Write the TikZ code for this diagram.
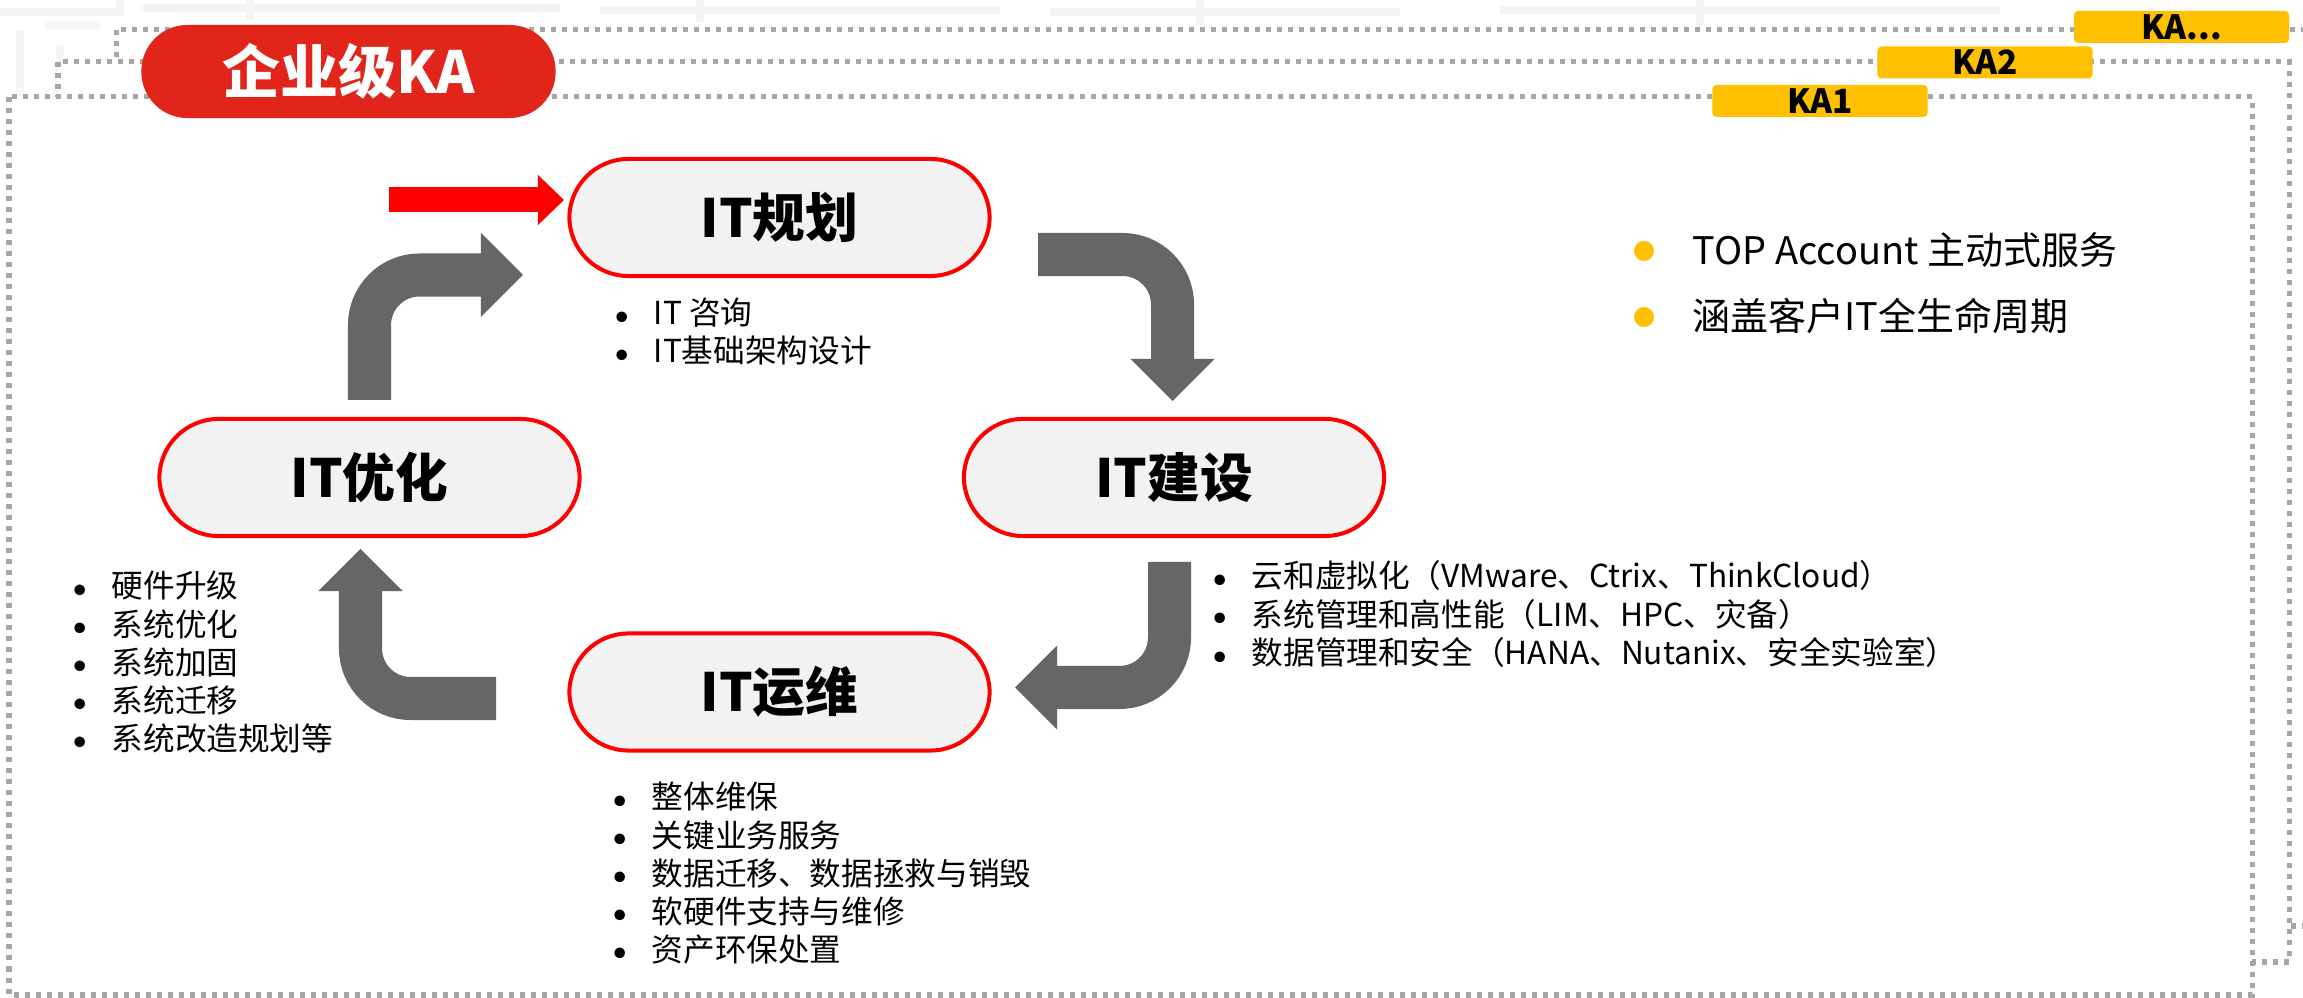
\documentclass[tikz,border=0pt]{standalone}
\usepackage{fontspec}
\setmainfont{Noto Sans CJK SC}
\usepackage{tikz}
\usetikzlibrary{arrows.meta,shapes,positioning,calc}
\definecolor{titlered}{HTML}{E1251B}
\definecolor{ringred}{HTML}{FF0000}
\definecolor{pillgray}{HTML}{F2F2F2}
\definecolor{arrowgray}{HTML}{666666}
\definecolor{kay}{HTML}{FFC000}
\definecolor{dotgray}{HTML}{A6A6A6}
\tikzstyle{pill}=[draw=ringred, line width=0.04cm, fill=pillgray, rounded corners=0.59cm, minimum width=4.2cm, minimum height=1.17cm, font=\fontsize{15}{18}\selectfont\bfseries]
\tikzstyle{kabox}=[fill=kay, rounded corners=0.04cm, minimum width=2.15cm, minimum height=0.32cm, inner sep=0pt, font=\fontsize{9.5}{11}\selectfont\bfseries]
\tikzstyle{dotframe}=[draw=dotgray, fill=white, line width=0.05cm, dash pattern=on 0.05cm off 0.06cm]
\tikzstyle{grayturn}=[draw=arrowgray, line width=0.43cm, rounded corners=0.5cm, -{Triangle[length=0.42cm, width=0.84cm, line width=0pt]}]
\tikzstyle{lst}=[anchor=base west, inner sep=0pt, font=\fontsize{9}{10.8}\selectfont]
\tikzstyle{key}=[anchor=base west, inner sep=0pt, font=\fontsize{10.8}{13}\selectfont]
\tikzstyle{faint}=[draw=black!4, line width=0.08cm]
\newcommand{\blt}{\makebox[0.39cm][l]{\raisebox{0.5pt}{\fontsize{7}{8}\selectfont$\bullet$}}}

\begin{document}
\begin{tikzpicture}[x=0.01cm, y=-0.01cm]
				\clip(0,0)rectangle(2303,998);
				% faint background
				\draw[faint](0,12)--(120,12)--(120,0) (20,30)--(20,95) (45,25)--(100,25) (60,45)--(60,95) (140,8)--(560,8) (250,20)--(250,0) (600,10)--(1000,10) (700,22)--(700,0) (1050,12)--(1400,12) (1200,25)--(1200,0) (1500,10)--(2000,10) (1700,25)--(1700,0);
				% stacked frames
				\draw[dotframe](116,30)rectangle(2340,926);
				\draw[dotframe](58,62)rectangle(2289,962);
				\draw[dotframe](9,97)rectangle(2252,995);
				\node[kabox](kan)at(2181.5,27){KA...};
				\node[kabox](katwo)at(1985,62.5){KA2};
				\node[kabox](kaone)at(1820,101){KA1};
				\node[fill=titlered, rounded corners=0.46cm, minimum width=4.14cm, minimum height=0.93cm, text=white, font=\fontsize{16.5}{20}\selectfont\bfseries](title)at(348.5,71.5){企业级KA};
				% cycle
				\node[pill](plan)at(779.5,217.5){IT规划};
				\node[pill](build)at(1174,477.5){IT建设};
				\node[pill](ops)at(779.5,692){IT运维};
				\node[pill](optim)at(369.5,477.5){IT优化};
				\coordinate(rs)at(389,200);
				\coordinate(rt)at(564,200);
				\draw[draw=ringred, line width=0.25cm, -{Triangle[length=0.26cm, width=0.5cm, line width=0pt]}](rs)--(rt);
				\coordinate(a1s)at(369.5,400);
				\coordinate(a1e)at(523,275);
				\coordinate(a2s)at(1038,254.5);
				\coordinate(a2e)at(1172.5,401);
				\coordinate(a3s)at(1169.5,562);
				\coordinate(a3e)at(1015,687.5);
				\coordinate(a4s)at(496,698.5);
				\coordinate(a4e)at(360.5,549);
				\draw[grayturn](a1s)|-(a1e);
				\draw[grayturn](a2s)-|(a2e);
				\draw[grayturn](a3s)|-(a3e);
				\draw[grayturn](a4s)-|(a4e);
				% lists
				\node[lst](planlist)at(614,325){\begin{tabular}[t]{@{}l@{}}\blt IT 咨询\\\blt IT基础架构设计\end{tabular}};
				\node[lst](buildlist)at(1212,588){\begin{tabular}[t]{@{}l@{}}\blt 云和虚拟化（VMware、Ctrix、ThinkCloud）\\\blt 系统管理和高性能（LIM、HPC、灾备）\\\blt 数据管理和安全（HANA、Nutanix、安全实验室）\end{tabular}};
				\node[lst](opslist)at(612,809){\begin{tabular}[t]{@{}l@{}}\blt 整体维保\\\blt 关键业务服务\\\blt 数据迁移、数据拯救与销毁\\\blt 软硬件支持与维修\\\blt 资产环保处置\end{tabular}};
				\node[lst](optimlist)at(72,598){\begin{tabular}[t]{@{}l@{}}\blt 硬件升级\\\blt 系统优化\\\blt 系统加固\\\blt 系统迁移\\\blt 系统改造规划等\end{tabular}};
				% key points
				\fill[kay](1644,251)circle(0.1cm);
				\fill[kay](1644,317)circle(0.1cm);
				\node[key](topacc)at(1692,265){TOP Account 主动式服务};
				\node[key](cover)at(1692,331){涵盖客户IT全生命周期};
			\end{tikzpicture}
\end{document}
